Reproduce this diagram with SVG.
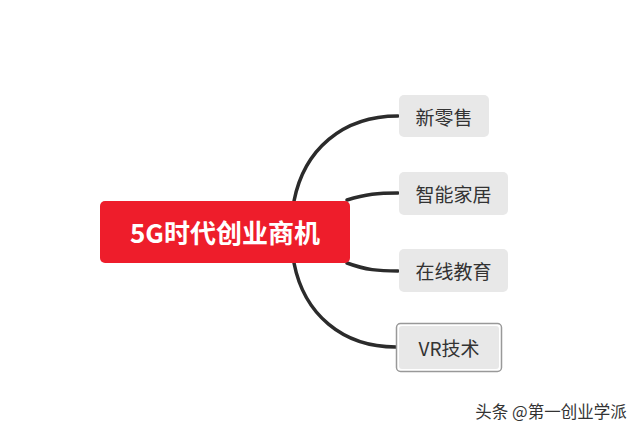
<svg xmlns="http://www.w3.org/2000/svg" width="640" height="435" viewBox="0 0 640 435">
<style>
.sub{fill:#e8e8e8}
.lbl{font-family:"Noto Sans CJK SC","Noto Sans",sans-serif;font-size:19px;fill:#333;text-anchor:middle;dominant-baseline:central}
.main{font-family:"Noto Sans CJK SC","Noto Sans",sans-serif;font-size:26px;font-weight:bold;fill:#fff;text-anchor:middle;dominant-baseline:central}
.con{fill:none;stroke:#2b2b2b;stroke-width:3.5;stroke-linecap:round}
.wm{font-family:"Noto Sans CJK SC","Noto Sans",sans-serif;font-size:16.5px;fill:#333;text-anchor:middle;dominant-baseline:central}
</style>
<rect width="640" height="435" fill="#fff"/>
<g id="connectors">
<path class="con" d="M294,201 C304,150 342,116 398,116"/>
<path class="con" d="M347,200 C366,194 378,193 398,193"/>
<path class="con" d="M347,263 C366,270 378,271 398,271"/>
<path class="con" d="M294,263 C304,314 342,347 396,347"/>
</g>
<g id="root">
<rect x="100" y="201" width="250" height="62" rx="5" fill="#ee1d2b"/>
<text class="main" x="225" y="231">5G时代创业商机</text>
</g>
<g id="n1">
<rect class="sub" x="399" y="95" width="90" height="42" rx="5"/>
<text class="lbl" x="444" y="116">新零售</text>
</g>
<g id="n2">
<rect class="sub" x="399" y="172" width="109" height="43" rx="5"/>
<text class="lbl" x="453.5" y="193">智能家居</text>
</g>
<g id="n3">
<rect class="sub" x="399" y="249" width="109" height="43" rx="5"/>
<text class="lbl" x="453.5" y="270">在线教育</text>
</g>
<g id="n4">
<rect x="396.5" y="323.5" width="105" height="48" rx="4" fill="#fff" stroke="#999" stroke-width="1.5"/>
<rect class="sub" x="399" y="326" width="100" height="43" rx="3"/>
<text class="lbl" x="449" y="347">VR技术</text>
</g>
<text class="wm" x="551" y="411">头条 @第一创业学派</text>
</svg>
